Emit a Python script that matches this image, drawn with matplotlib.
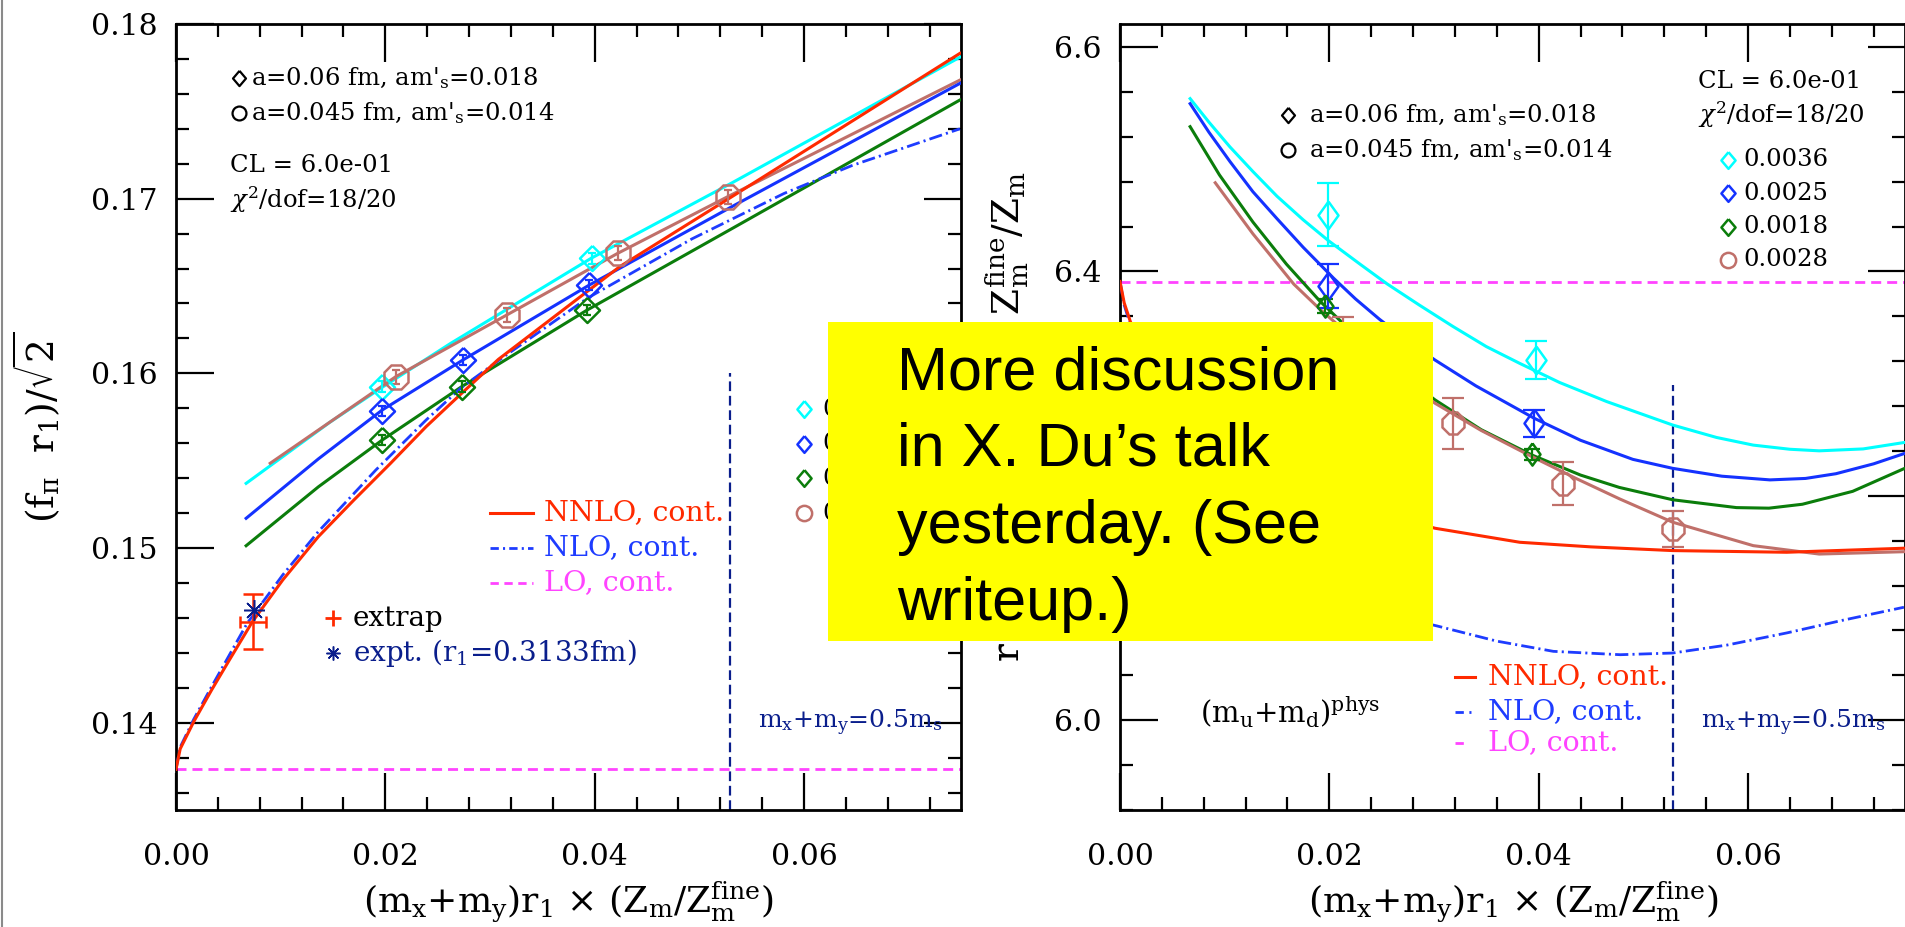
import matplotlib
matplotlib.use("Agg")
import matplotlib.pyplot as plt
from matplotlib.lines import Line2D
from matplotlib.patches import Rectangle
from matplotlib.ticker import MultipleLocator, FormatStrFormatter

plt.rcParams['font.family'] = ['DejaVu Serif']
plt.rcParams['mathtext.fontset'] = 'dejavuserif'
plt.rcParams['lines.scale_dashes'] = False

# ---------------- left panel data : (f_pi r1)/sqrt2 ----------------
L_cyan_x = [0.0067, 0.0147, 0.0197, 0.0262, 0.0397, 0.0531, 0.0749]
L_cyan_y = [0.1537, 0.1572, 0.1592, 0.1617, 0.1666, 0.1709, 0.1781]
L_blue_x = [0.0067, 0.0136, 0.0197, 0.0274, 0.0395, 0.0531, 0.0749]
L_blue_y = [0.1517, 0.1551, 0.1579, 0.16076, 0.16506, 0.16954, 0.1766]
L_green_x = [0.0067, 0.0136, 0.0197, 0.0273, 0.0393, 0.0531, 0.0749]
L_green_y = [0.15013, 0.1535, 0.15618, 0.15924, 0.16363, 0.16828, 0.17565]
L_brown_x = [0.0090, 0.0210, 0.0316, 0.0422, 0.0527, 0.0749]
L_brown_y = [0.15485, 0.15981, 0.16334, 0.16687, 0.17011, 0.17679]
L_nnlo_x = [0, 0.0004, 0.0017, 0.0034, 0.0051, 0.0073, 0.0102, 0.0136, 0.0170,
            0.0205, 0.0239, 0.0273, 0.0308, 0.0424, 0.0531, 0.0749]
L_nnlo_y = [0.13733, 0.1385, 0.14006, 0.14187, 0.14359, 0.14578, 0.14817, 0.15065,
            0.15275, 0.15485, 0.15695, 0.15886, 0.1608, 0.16611, 0.17011, 0.17832]
L_nlo_x = [0, 0.0004, 0.0017, 0.0034, 0.0068, 0.0102, 0.0136, 0.0191, 0.0239,
           0.0273, 0.0312, 0.0393, 0.0493, 0.0581, 0.0646, 0.0749]
L_nlo_y = [0.13733, 0.1386, 0.1402, 0.14206, 0.14569, 0.14846, 0.15094, 0.15447,
           0.15733, 0.1592, 0.1609, 0.1643, 0.1677, 0.1703, 0.1719, 0.1740]
L_lo = 0.13733

L_pts_cyan = ([0.0197, 0.0397], [0.15924, 0.16658], [0.00033, 0.00033])
L_pts_blue = ([0.0197, 0.0274, 0.0395], [0.15785, 0.16076, 0.16506], [0.0003, 0.0003, 0.0003])
L_pts_green = ([0.0197, 0.0273, 0.0393], [0.15618, 0.15924, 0.16363], [0.0003, 0.0003, 0.0003])
L_pts_brown = ([0.0210, 0.0316, 0.0422, 0.0527], [0.15981, 0.16334, 0.16687, 0.17011],
               [0.0004, 0.0004, 0.0004, 0.0004])
L_extrap = (0.00733, 0.14578, 0.00124, 0.00157)   # x, y, xerr, yerr
L_expt = (0.00745, 0.14645)
L_half_ms = (0.0529, 0.1600)   # x position, top of marker line

# ---------------- right panel data : r1 m_pi^2/(mx+my) * Zm^fine/Zm ----------------
R_cyan_x = [0.0067, 0.0085, 0.0105, 0.0127, 0.0150, 0.0175, 0.0199, 0.0230, 0.0255,
            0.0286, 0.0318, 0.0350, 0.0382, 0.0420, 0.0465, 0.0528, 0.0570, 0.0605,
            0.0640, 0.0668, 0.0710, 0.0749]
R_cyan_y = [6.554, 6.533, 6.511, 6.489, 6.467, 6.446, 6.4275, 6.406, 6.389,
            6.370, 6.351, 6.333, 6.318, 6.301, 6.284, 6.2631, 6.252, 6.2452,
            6.2415, 6.2401, 6.2418, 6.2475]
R_blue_x = [0.0067, 0.0085, 0.0105, 0.0127, 0.0150, 0.0175, 0.0204, 0.0225, 0.0248,
            0.0275, 0.0301, 0.0340, 0.0396, 0.0440, 0.0490, 0.0528, 0.0575, 0.0621,
            0.0655, 0.0684, 0.0720, 0.0749]
R_blue_y = [6.5495, 6.524, 6.498, 6.471, 6.447, 6.4215, 6.394, 6.3755, 6.3573,
            6.338, 6.321, 6.298, 6.269, 6.2495, 6.2325, 6.2245, 6.2175, 6.2142,
            6.2155, 6.2197, 6.2285, 6.2376]
R_green_x = [0.0067, 0.0095, 0.0127, 0.0159, 0.0191, 0.0225, 0.0260, 0.0301, 0.0345,
             0.0394, 0.0440, 0.0477, 0.0528, 0.0589, 0.0620, 0.0652, 0.0700, 0.0749]
R_green_y = [6.529, 6.486, 6.444, 6.4065, 6.3735, 6.343, 6.3145, 6.2855, 6.259,
             6.2362, 6.2185, 6.2075, 6.1965, 6.1895, 6.189, 6.1925, 6.204, 6.2242]
R_brown_x = [0.0091, 0.0127, 0.0166, 0.0191, 0.0245, 0.0301, 0.0345, 0.0394, 0.0435,
             0.0477, 0.0528, 0.0605, 0.0668, 0.0749]
R_brown_y = [6.479, 6.4335, 6.3887, 6.3663, 6.3225, 6.2825, 6.2583, 6.2347, 6.2158,
             6.1974, 6.1765, 6.1556, 6.1481, 6.1502]
R_nnlo_x = [0, 0.0004, 0.001, 0.003, 0.007, 0.012, 0.018, 0.024, 0.0301, 0.0382,
            0.0450, 0.0528, 0.0637, 0.0749]
R_nnlo_y = [6.391, 6.372, 6.355, 6.32, 6.28, 6.24, 6.21, 6.187, 6.1711, 6.1586,
            6.1545, 6.1512, 6.1497, 6.1533]
R_nlo_x = [0, 0.0004, 0.001, 0.003, 0.007, 0.012, 0.018, 0.024, 0.0303, 0.0360,
           0.0414, 0.0478, 0.0528, 0.0580, 0.0637, 0.0690, 0.0749]
R_nlo_y = [6.391, 6.37, 6.352, 6.30, 6.22, 6.16, 6.12, 6.098, 6.084, 6.0705,
           6.0614, 6.0584, 6.0599, 6.067, 6.0778, 6.089, 6.1007]
R_lo = 6.391

R_pts_cyan = ([0.0199, 0.0397], [6.4506, 6.3208], [0.028, 0.017])
R_pts_blue = ([0.0199, 0.0396], [6.3872, 6.2646], [0.0195, 0.012])
R_pts_green = ([0.0196, 0.0394], [6.3692, 6.2371], [0.006, 0.005])
R_pts_brown = ([0.0213, 0.0318, 0.0423, 0.0528], [6.335, 6.2646, 6.2108, 6.1704],
               [0.024, 0.023, 0.019, 0.016])
R_half_ms = (0.0528, 6.299)

mass_labels = ['0.0036', '0.0025', '0.0018', '0.0028']

# ---------------- styling ----------------
CYAN = '#00ffff'
BLUE = '#1432ff'
GREEN = '#0b7d0b'
BROWN = '#c0706a'
RED = '#ff2a00'
MAG = '#ff44ff'
NAVY = '#0a1e8c'
NLOB = '#1e3cff'

W, H, DPI = 1905, 927, 100
fig = plt.figure(figsize=(W / DPI, H / DPI), dpi=DPI)
fig.patch.set_facecolor('white')

axL = fig.add_axes([176 / W, 1 - 810 / H, 785 / W, 786 / H])
axR = fig.add_axes([1120 / W, 1 - 810 / H, 785 / W, 786 / H])

DIAM_L = [(0, 1), (1, 0), (0, -1), (-1, 0), (0, 1)]
DIAM_R = [(0, 1), (0.72, 0), (0, -1), (-0.72, 0), (0, 1)]
DIAM_S = [(0, 1), (0.85, 0), (0, -1), (-0.85, 0), (0, 1)]

NLO_DASH = (0, (9.5, 3.0, 1.5, 3.0))
LO_DASH = (0, (7.2, 4.3))
NAVY_DASH = (0, (7.0, 3.4))


def style_axes(ax, ymaj, ymin, yfmt):
    ax.set_xlim(0, 0.075)
    ax.xaxis.set_major_locator(MultipleLocator(0.02))
    ax.xaxis.set_minor_locator(MultipleLocator(0.004))
    ax.yaxis.set_major_locator(MultipleLocator(ymaj))
    ax.yaxis.set_minor_locator(MultipleLocator(ymin))
    ax.xaxis.set_major_formatter(FormatStrFormatter('%.2f'))
    ax.yaxis.set_major_formatter(FormatStrFormatter(yfmt))
    ax.tick_params(which='both', direction='in', top=True, right=True,
                   width=1.6, color='black', labelsize=21.5)
    ax.tick_params(which='major', length=27)
    ax.tick_params(which='minor', length=9.5)
    ax.tick_params(axis='x', which='major', pad=24)
    ax.tick_params(axis='y', which='major', pad=13)
    for sp in ax.spines.values():
        sp.set_linewidth(2.0)


def draw_points(ax, pts, color, marker, ms, capsize):
    x, y, e = pts
    ax.errorbar(x, y, yerr=e, fmt='none', ecolor=color, elinewidth=1.6,
                capsize=capsize, capthick=1.6, zorder=4)
    ax.plot(x, y, ls='none', marker=marker, ms=ms, mfc='none', mec=color,
            mew=1.8, zorder=5)


# ---------------- left panel ----------------
axL.set_ylim(0.135, 0.18)
style_axes(axL, 0.01, 0.002, '%.2f')
axL.axhline(L_lo, color=MAG, lw=2.0, ls=LO_DASH, zorder=2)
axL.plot(L_cyan_x, L_cyan_y, color=CYAN, lw=2.2, zorder=3)
axL.plot(L_brown_x, L_brown_y, color=BROWN, lw=2.2, zorder=3)
axL.plot(L_blue_x, L_blue_y, color=BLUE, lw=2.2, zorder=3)
axL.plot(L_green_x, L_green_y, color=GREEN, lw=2.2, zorder=3)
axL.plot(L_nlo_x, L_nlo_y, color=NLOB, lw=2.0, ls=NLO_DASH, zorder=3)
axL.plot(L_nnlo_x, L_nnlo_y, color=RED, lw=2.2, zorder=3)
axL.plot([L_half_ms[0]] * 2, [0.135, L_half_ms[1]], color=NAVY, lw=1.6,
         ls=NAVY_DASH, zorder=2)
draw_points(axL, L_pts_cyan, CYAN, DIAM_L, 18, 3)
draw_points(axL, L_pts_blue, BLUE, DIAM_L, 18, 3)
draw_points(axL, L_pts_green, GREEN, DIAM_L, 18, 3)
draw_points(axL, L_pts_brown, BROWN, '8', 18.5, 3)
ex, ey, exe, eye = L_extrap
axL.errorbar([ex], [ey], yerr=[eye], fmt='none', ecolor=RED, elinewidth=1.8,
             capsize=7.5, capthick=1.8, zorder=6)
axL.errorbar([ex], [ey], xerr=[exe], fmt='none', ecolor=RED, elinewidth=1.8,
             capsize=4, capthick=1.8, zorder=6)
axL.plot([L_expt[0]], [L_expt[1]], ls='none', marker=(8, 2, 0), ms=15,
         mec=NAVY, mew=1.1, zorder=6)

# ---------------- right panel ----------------
axR.set_ylim(5.92, 6.6205)
style_axes(axR, 0.2, 0.04, '%.1f')
axR.axhline(R_lo, color=MAG, lw=2.0, ls=LO_DASH, zorder=2)
axR.plot(R_cyan_x, R_cyan_y, color=CYAN, lw=2.2, zorder=3)
axR.plot(R_blue_x, R_blue_y, color=BLUE, lw=2.2, zorder=3)
axR.plot(R_green_x, R_green_y, color=GREEN, lw=2.2, zorder=3)
axR.plot(R_brown_x, R_brown_y, color=BROWN, lw=2.2, zorder=3)
axR.plot(R_nlo_x, R_nlo_y, color=NLOB, lw=2.0, ls=NLO_DASH, zorder=3)
axR.plot(R_nnlo_x, R_nnlo_y, color=RED, lw=2.2, zorder=3)
axR.plot([R_half_ms[0]] * 2, [5.92, R_half_ms[1]], color=NAVY, lw=1.6,
         ls=NAVY_DASH, zorder=2)
draw_points(axR, R_pts_cyan, CYAN, DIAM_R, 20, 8)
draw_points(axR, R_pts_blue, BLUE, DIAM_R, 20, 8)
draw_points(axR, R_pts_green, GREEN, DIAM_R, 16, 6)
draw_points(axR, R_pts_brown, BROWN, '8', 16.5, 8)


# ---------------- helpers for figure-pixel placement ----------------
def ftext(px, py, s, **kw):
    kw.setdefault('va', 'center')
    kw.setdefault('ha', 'left')
    return fig.text(px / W, 1 - py / H, s, **kw)


def fline(x0, x1, py, **kw):
    fig.add_artist(Line2D([x0 / W, x1 / W], [1 - py / H] * 2,
                          transform=fig.transFigure, **kw))


def fmark(px, py, **kw):
    fig.add_artist(Line2D([px / W], [1 - py / H], transform=fig.transFigure,
                          ls='none', **kw))


LEG = 17.5
AMS1 = r"a=0.06 fm, am$'_\mathrm{s}$=0.018"
AMS2 = r"a=0.045 fm, am$'_\mathrm{s}$=0.014"
HALF = r"m$_\mathrm{x}$+m$_\mathrm{y}$=0.5m$_\mathrm{s}$"

# left panel annotations
fmark(239, 78, marker=DIAM_S, ms=11, mfc='none', mec='black', mew=1.6)
ftext(251, 78, AMS1, fontsize=LEG)
fmark(239, 113, marker='o', ms=10, mfc='none', mec='black', mew=1.6)
ftext(251, 113, AMS2, fontsize=LEG)
ftext(230, 165, "CL = 6.0e-01", fontsize=LEG)
ftext(230, 200, r"$\chi^2$/dof=18/20", fontsize=LEG)

leg_cols = [CYAN, BLUE, GREEN, BROWN]
leg_mk = [DIAM_S, DIAM_S, DIAM_S, 'o']
for i, (c, m, lab) in enumerate(zip(leg_cols, leg_mk, mass_labels)):
    py = 409 + i * 34.7
    fmark(804, py, marker=m, ms=12 if m != 'o' else 11, mfc='none', mec=c, mew=1.8)
    ftext(822, py, lab, fontsize=LEG)

fline(490, 533, 513, color=RED, lw=2.2)
ftext(544, 513, "NNLO, cont.", fontsize=20.5, color=RED)
fline(490, 533, 548, color=NLOB, lw=2.0, ls=(0, (6, 3, 1.5, 3)))
ftext(544, 548, "NLO, cont.", fontsize=20.5, color=NLOB)
fline(490, 533, 583, color=MAG, lw=2.0, ls=(0, (6, 4)))
ftext(544, 583, "LO, cont.", fontsize=20.5, color=MAG)

fmark(333, 618, marker='+', ms=11, mec=RED, mew=2.0)
ftext(353, 618, "extrap", fontsize=20)
fmark(333, 653, marker=(8, 2, 0), ms=10, mec=NAVY, mew=1.1)
ftext(353, 653, r"expt. (r$_\mathrm{1}$=0.3133fm)", fontsize=20, color=NAVY)
ftext(758, 723, HALF, fontsize=18, color=NAVY)

# right panel annotations
fmark(1288, 115, marker=DIAM_S, ms=11, mfc='none', mec='black', mew=1.6)
ftext(1309, 115, AMS1, fontsize=LEG)
fmark(1288, 150, marker='o', ms=10, mfc='none', mec='black', mew=1.6)
ftext(1309, 150, AMS2, fontsize=LEG)
ftext(1698, 82, "CL = 6.0e-01", fontsize=LEG)
ftext(1698, 115, r"$\chi^2$/dof=18/20", fontsize=LEG)
for i, (c, m, lab) in enumerate(zip(leg_cols, leg_mk, mass_labels)):
    py = 160 + i * 33.3
    fmark(1728, py, marker=m, ms=12 if m != 'o' else 11, mfc='none', mec=c, mew=1.8)
    ftext(1743, py, lab, fontsize=LEG)

ftext(1200, 712, r"(m$_\mathrm{u}$+m$_\mathrm{d}$)$^\mathrm{phys}$", fontsize=21)
fline(1455, 1475, 677, color=RED, lw=2.2)
ftext(1488, 677, "NNLO, cont.", fontsize=20.5, color=RED)
fline(1455, 1475, 712, color=NLOB, lw=2.0, ls=(0, (6, 4, 1.5, 3)))
ftext(1488, 712, "NLO, cont.", fontsize=20.5, color=NLOB)
fline(1455, 1475, 743, color=MAG, lw=2.0, ls=(0, (6, 14)))
ftext(1488, 743, "LO, cont.", fontsize=20.5, color=MAG)
ftext(1701, 723, HALF, fontsize=18, color=NAVY)

# axis labels
XLAB = r"(m$_\mathrm{x}$+m$_\mathrm{y}$)r$_\mathrm{1}$ $\times$ (Z$_\mathrm{m}$/Z$_\mathrm{m}^\mathrm{fine}$)"
ftext(568, 913, XLAB, fontsize=26, ha='center', va='baseline')
ftext(1513, 913, XLAB, fontsize=26, ha='center', va='baseline')
ftext(36, 427, r"$\mathrm{(f_\pi\ \ r_1)/\sqrt{2}}$", fontsize=27, ha='center',
      rotation=90)
ftext(1008, 416, r"$\mathrm{r_1\ m_\pi^2/(m_x{+}m_y)\ \times\ Z_m^{fine}/Z_m}$",
      fontsize=27, ha='center', rotation=90)

# slide frame line on the left edge
fig.add_artist(Line2D([1.5 / W] * 2, [0, 1], transform=fig.transFigure,
                      color='#8a8a8a', lw=1.5))

# yellow call-out box
fig.add_artist(Rectangle((828 / W, 1 - 641 / H), (1433 - 828) / W, (641 - 322) / H,
                         transform=fig.transFigure, facecolor='#ffff00',
                         edgecolor='none', zorder=10))
box_lines = ["More discussion", "in X. Du\u2019s talk", "yesterday. (See", "writeup.)"]
for i, s in enumerate(box_lines):
    t = ftext(897, 389 + 77 * i, s, fontsize=44, va='baseline',
              family=['Liberation Sans', 'DejaVu Sans'], color='black')
    t.set_zorder(11)

fig.savefig('out.png', dpi=DPI, facecolor='white')
